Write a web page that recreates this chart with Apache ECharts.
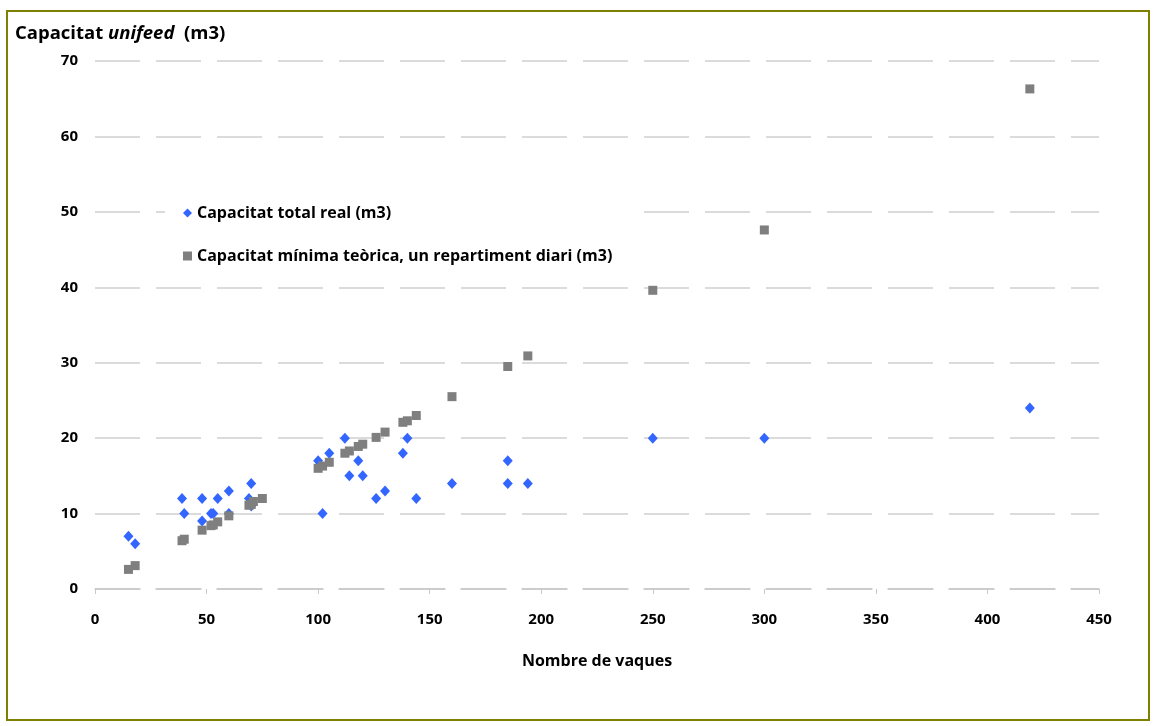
<!DOCTYPE html>
<html>
<head>
<meta charset="utf-8">
<script src="https://cdn.jsdelivr.net/npm/echarts@6/dist/echarts.min.js"></script>
<style>
html,body{margin:0;padding:0;background:#fff;}
#chart{width:1155px;height:726px;}
</style>
</head>
<body>
<div id="chart"></div>
<script>
const seriesNames = ['Capacitat total real (m3)', 'Capacitat mínima teòrica, un repartiment diari (m3)'];
const realCows = [15, 18, 39, 40, 48, 48, 52, 53, 55, 60, 60, 69, 70, 70, 100, 102, 105, 112, 114, 118, 120, 126, 130, 138, 140, 144, 160, 185, 185, 194, 250, 300, 419];
const realCap  = [7, 6, 12, 10, 12, 9, 10, 10, 12, 13, 10, 12, 14, 11, 17, 10, 18, 20, 15, 17, 15, 12, 13, 18, 20, 12, 14, 17, 14, 14, 20, 20, 24];
const minCows = [15, 18, 39, 40, 48, 52, 53, 55, 60, 69, 70, 71, 75, 100, 102, 105, 112, 114, 118, 120, 126, 130, 138, 140, 144, 160, 185, 194, 250, 300, 419];
const minCap  = [2.6, 3.1, 6.4, 6.6, 7.8, 8.4, 8.5, 8.9, 9.7, 11.1, 11.2, 11.6, 12.0, 16.0, 16.3, 16.8, 18.0, 18.3, 18.9, 19.2, 20.1, 20.8, 22.1, 22.3, 23.0, 25.5, 29.5, 30.9, 39.6, 47.6, 66.3];
const xTicks = { min: 0, max: 450, interval: 50 };
const yTicks = { min: 0, max: 70, interval: 10 };
const xTitle = 'Nombre de vaques';
const yTitleParts = ['Capacitat ', 'unifeed', '  (m3)'];

const FONT = '"Open Sans", "Noto Sans", sans-serif';
const chart = echarts.init(document.getElementById('chart'));
const dash = [45, 16];
chart.setOption({
  backgroundColor: '#ffffff',
  animation: false,
  textStyle: { fontFamily: FONT },
  title: {
    left: 10, top: 19,
    text: '{b|' + yTitleParts[0] + '}{i|' + yTitleParts[1] + '}{b|' + yTitleParts[2] + '}',
    textStyle: {
      rich: {
        b: { fontFamily: FONT, fontWeight: 'bold', fontSize: 18.5, color: '#000' },
        i: { fontFamily: FONT, fontWeight: 'bold', fontStyle: 'italic', fontSize: 18.5, color: '#000' }
      }
    }
  },
  legend: {
    orient: 'vertical',
    left: 165, top: 197,
    padding: [8, 18, 8, 18],
    backgroundColor: '#ffffff',
    itemGap: 27,
    itemWidth: 9, itemHeight: 9,
    textStyle: { fontFamily: FONT, fontWeight: 'bold', fontSize: 16, color: '#000' },
    data: [
      { name: seriesNames[0], icon: 'diamond' },
      { name: seriesNames[1], icon: 'rect' }
    ]
  },
  grid: { left: 95, right: 56, top: 61, bottom: 137 },
  xAxis: {
    type: 'value',
    min: xTicks.min, max: xTicks.max, interval: xTicks.interval,
    name: xTitle,
    nameLocation: 'middle',
    nameGap: 64,
    nameTextStyle: { fontFamily: FONT, fontWeight: 'bold', fontSize: 16, color: '#000' },
    axisLine: { show: true, lineStyle: { color: '#C8C8C8', width: 1.5, type: dash } },
    axisTick: { show: true, length: 5, lineStyle: { color: '#C8C8C8' } },
    axisLabel: { fontFamily: FONT, fontWeight: 'bold', fontSize: 15, color: '#000', margin: 23 },
    splitLine: { show: false }
  },
  yAxis: {
    type: 'value',
    min: yTicks.min, max: yTicks.max, interval: yTicks.interval,
    axisLine: { show: false },
    axisTick: { show: false },
    axisLabel: { fontFamily: FONT, fontWeight: 'bold', fontSize: 15, color: '#000', margin: 17 },
    splitLine: { show: true, lineStyle: { color: '#CFCFCF', width: 1.5, type: dash } }
  },
  series: [
    {
      name: seriesNames[0],
      type: 'scatter',
      symbol: 'diamond',
      symbolSize: [10, 11],
      itemStyle: { color: '#3366FF', opacity: 1 },
      data: realCows.map((c, i) => [c, realCap[i]]),
      z: 2
    },
    {
      name: seriesNames[1],
      type: 'scatter',
      symbol: 'rect',
      symbolSize: 9,
      itemStyle: { color: '#7F7F7F', opacity: 1 },
      data: minCows.map((c, i) => [c, minCap[i]]),
      z: 3
    }
  ],
  graphic: [
    {
      type: 'rect',
      shape: { x: 7, y: 11, width: 1142, height: 709 },
      style: { fill: 'none', stroke: '#808000', lineWidth: 2 },
      silent: true,
      z: 100
    }
  ]
});
</script>
</body>
</html>
